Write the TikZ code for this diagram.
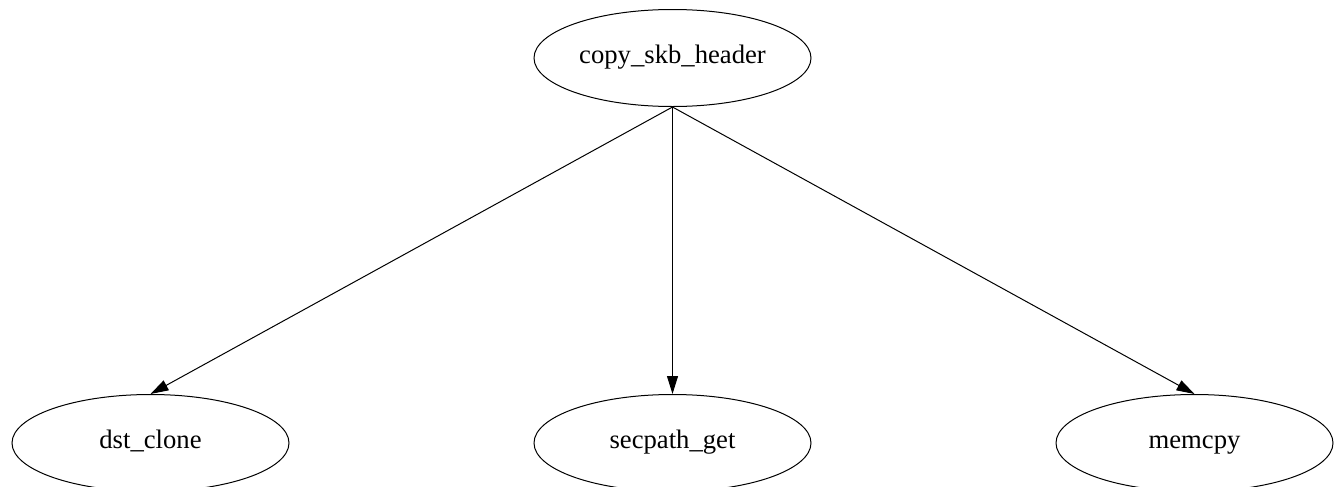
\documentclass[tikz,border=0pt]{standalone}
\usepackage{fontspec}
\setmainfont{Liberation Serif}
\usetikzlibrary{shapes.geometric,arrows.meta}
\begin{document}
\begin{tikzpicture}[x=0.75pt,y=-0.75pt,
  fn/.style={draw=black,ellipse,line width=0.75pt,inner sep=0pt,
    minimum width=207.75pt,minimum height=72.75pt,
    font=\fontsize{20pt}{24pt}\selectfont,
    text height=13.5pt,text depth=5.25pt},
  call/.style={draw=black,line width=0.75pt,
    -{Triangle[length=13.5pt,width=8.25pt]}}]
  \useasboundingbox (0,0) rectangle (1336,486);
  \node[fn] (hdr) at (672.5,58) {copy\_skb\_header};
  \node[fn] (dst) at (150.5,443) {dst\_clone};
  \node[fn] (sec) at (672.5,443) {secpath\_get};
  \node[fn] (mem) at (1194.5,443) {memcpy};
  \draw[call] (hdr.south) -- (dst.north);
  \draw[call] (hdr.south) -- (sec.north);
  \draw[call] (hdr.south) -- (mem.north);
\end{tikzpicture}
\end{document}
